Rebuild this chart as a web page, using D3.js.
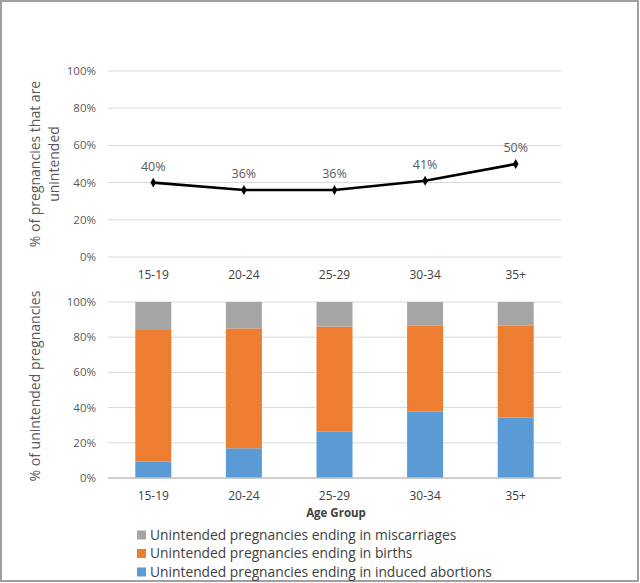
<!DOCTYPE html>
<html>
<head>
<meta charset="utf-8">
<script src="https://cdn.jsdelivr.net/npm/d3@7"></script>
<style>
html,body{margin:0;padding:0;background:#fff;}
svg{display:block;}
text{font-family:"Open Sans","Liberation Sans",sans-serif;}
</style>
</head>
<body>
<svg id="chart" width="640" height="583"></svg>
<script>
const categories = ["15-19","20-24","25-29","30-34","35+"];
const unintendedPct = [40,36,36,41,50];
const abortions = [9.3,16.9,26.3,37.7,34.3];
const births = [74.8,68.1,59.7,48.8,52.2];
const miscarriages = [15.9,15.0,14.0,13.5,13.5];
const yTicks = [0,20,40,60,80,100];
const seriesNames = ["Unintended pregnancies ending in induced abortions","Unintended pregnancies ending in births","Unintended pregnancies ending in miscarriages"];
const seriesColors = ["#5b9bd5","#ed7d31","#a5a5a5"];

const svg = d3.select("#chart");
svg.append("rect").attr("x",1).attr("y",1).attr("width",637).attr("height",580)
  .attr("fill","#fff").attr("stroke","#a0a0a0").attr("stroke-width",2);

const left = 108, right = 561;
const x = d3.scaleBand().domain(categories).range([left,right]);

// ---------- Top line chart ----------
const yTop = d3.scaleLinear().domain([0,100]).range([257,71]);
const gTop = svg.append("g");
gTop.selectAll("line.grid").data(yTicks).join("line")
  .attr("x1",left).attr("x2",right)
  .attr("y1",d=>yTop(d)).attr("y2",d=>yTop(d))
  .attr("stroke","#d9d9d9").attr("stroke-width",1);
gTop.selectAll("text.ytick").data(yTicks).join("text")
  .attr("x",96).attr("y",d=>yTop(d)).attr("dy","0.35em")
  .attr("text-anchor","end").attr("font-size",11.5).attr("fill","#595959")
  .text(d=>d+"%");
gTop.selectAll("text.xtick").data(categories).join("text")
  .attr("x",d=>x(d)+x.bandwidth()/2).attr("y",275).attr("dy","0.35em")
  .attr("text-anchor","middle").attr("font-size",12).attr("fill","#404040")
  .text(d=>d);
const line = d3.line().x((d,i)=>x(categories[i])+x.bandwidth()/2).y(d=>yTop(d));
gTop.append("path").datum(unintendedPct).attr("d",line)
  .attr("fill","none").attr("stroke","#000").attr("stroke-width",2.6);
gTop.selectAll("path.mk").data(unintendedPct).join("path")
  .attr("d",d3.symbol(d3.symbolDiamond,28))
  .attr("transform",(d,i)=>`translate(${x(categories[i])+x.bandwidth()/2},${yTop(d)})`)
  .attr("fill","#000");
gTop.selectAll("text.lbl").data(unintendedPct).join("text")
  .attr("x",(d,i)=>x(categories[i])+x.bandwidth()/2).attr("y",d=>yTop(d)-16).attr("dy","0.35em")
  .attr("text-anchor","middle").attr("font-size",12.5).attr("fill","#595959")
  .text(d=>d+"%");
const tt = gTop.append("text").attr("transform","translate(44,164) rotate(-90)")
  .attr("text-anchor","middle").attr("font-size",14).attr("fill","#595959");
tt.append("tspan").attr("x",0).attr("dy","-0.3em").text("% of pregnancies that are");
tt.append("tspan").attr("x",0).attr("dy","1.35em").text("unintended");

// ---------- Bottom stacked bars ----------
const yBot = d3.scaleLinear().domain([0,100]).range([478,302]);
const gBot = svg.append("g");
gBot.selectAll("line.grid").data(yTicks.filter(d=>d>0)).join("line")
  .attr("x1",left).attr("x2",right)
  .attr("y1",d=>yBot(d)).attr("y2",d=>yBot(d))
  .attr("stroke","#d9d9d9").attr("stroke-width",1);
gBot.selectAll("text.ytick").data(yTicks).join("text")
  .attr("x",96).attr("y",d=>yBot(d)).attr("dy","0.35em")
  .attr("text-anchor","end").attr("font-size",11.5).attr("fill","#595959")
  .text(d=>d+"%");
const rows = categories.map((c,i)=>({cat:c, a:abortions[i], b:births[i], m:miscarriages[i]}));
const stack = d3.stack().keys(["a","b","m"])(rows);
const barW = 36;
gBot.selectAll("g.s").data(stack).join("g").attr("fill",(d,i)=>seriesColors[i])
  .selectAll("rect").data(d=>d).join("rect")
  .attr("x",d=>x(d.data.cat)+x.bandwidth()/2-barW/2).attr("width",barW)
  .attr("y",d=>yBot(d[1])).attr("height",d=>yBot(d[0])-yBot(d[1]));
gBot.append("line").attr("x1",left).attr("x2",right).attr("y1",yBot(0)).attr("y2",yBot(0))
  .attr("stroke","#bfbfbf").attr("stroke-width",1.5);
gBot.selectAll("text.xtick").data(categories).join("text")
  .attr("x",d=>x(d)+x.bandwidth()/2).attr("y",496).attr("dy","0.35em")
  .attr("text-anchor","middle").attr("font-size",12).attr("fill","#404040")
  .text(d=>d);
gBot.append("text").attr("x",336).attr("y",513).attr("dy","0.35em")
  .attr("text-anchor","middle").attr("font-size",11.5).attr("font-weight","bold").attr("fill","#404040")
  .text("Age Group");
gBot.append("text").attr("transform","translate(35,386) rotate(-90)").attr("dy","0.35em")
  .attr("text-anchor","middle").attr("font-size",14).attr("fill","#595959")
  .text("% of unintended pregnancies");

// ---------- Legend ----------
const legendOrder = [2,1,0];
const lg = svg.append("g");
legendOrder.forEach((si,k)=>{
  const yy = 535 + k*18.5;
  lg.append("rect").attr("x",137).attr("y",yy-4.5).attr("width",9).attr("height",9).attr("fill",seriesColors[si]);
  lg.append("text").attr("x",150).attr("y",yy).attr("dy","0.35em")
    .attr("font-size",13.8).attr("fill","#404040").text(seriesNames[si]);
});
</script>
</body>
</html>
